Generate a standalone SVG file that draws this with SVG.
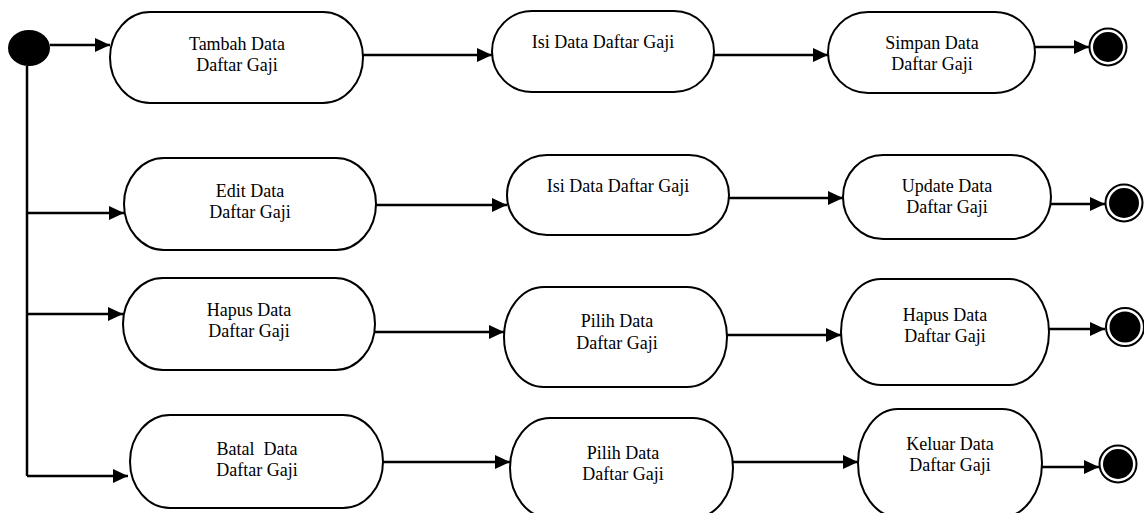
<svg xmlns="http://www.w3.org/2000/svg" width="1144" height="513" viewBox="0 0 1144 513">
<style>
.n{fill:#fff;stroke:#000;stroke-width:2}
.t{font-family:"Liberation Serif","Times New Roman",serif;font-size:18px;fill:#000;text-anchor:middle;white-space:pre}
.c{fill:none;stroke:#000;stroke-width:2.5}
</style>
<defs>
<marker id="ah" markerUnits="userSpaceOnUse" markerWidth="16" markerHeight="16" refX="15" refY="7" orient="auto">
<path d="M0,0 L15,7 L0,14 Z" fill="#000"/>
</marker>
</defs>
<g id="connectors">
<path class="c" d="M27,66 V476"/>
<path class="c" d="M50,45 H110" marker-end="url(#ah)"/>
<path class="c" d="M27,213 H124" marker-end="url(#ah)"/>
<path class="c" d="M27,314 H123" marker-end="url(#ah)"/>
<path class="c" d="M27,476 H128" marker-end="url(#ah)"/>
<path class="c" d="M363,55 H492" marker-end="url(#ah)"/>
<path class="c" d="M714,55 H828" marker-end="url(#ah)"/>
<path class="c" d="M1035,47 H1089" marker-end="url(#ah)"/>
<path class="c" d="M376,205 H507" marker-end="url(#ah)"/>
<path class="c" d="M729,198 H843" marker-end="url(#ah)"/>
<path class="c" d="M1051,204 H1105" marker-end="url(#ah)"/>
<path class="c" d="M375,332 H504" marker-end="url(#ah)"/>
<path class="c" d="M727,335 H841" marker-end="url(#ah)"/>
<path class="c" d="M1049,329 H1105" marker-end="url(#ah)"/>
<path class="c" d="M383,462 H510" marker-end="url(#ah)"/>
<path class="c" d="M733,462 H858" marker-end="url(#ah)"/>
<path class="c" d="M1042,467 H1099" marker-end="url(#ah)"/>
</g>
<g id="start"><ellipse cx="29" cy="48" rx="21" ry="18" fill="#000"/></g>
<g id="tambah"><rect class="n" x="110" y="12" width="253" height="91" rx="40" ry="60"/><text class="t" x="237" y="50">Tambah Data</text><text class="t" x="237" y="71">Daftar Gaji</text></g>
<g id="isi1"><rect class="n" x="492" y="11" width="222" height="81" rx="40" ry="60"/><text class="t" x="603" y="48">Isi Data Daftar Gaji</text></g>
<g id="simpan"><rect class="n" x="828" y="12" width="207" height="81" rx="40" ry="60"/><text class="t" x="932" y="49">Simpan Data</text><text class="t" x="932" y="70">Daftar Gaji</text></g>
<g id="end1"><circle cx="1108" cy="47" r="18.5" fill="#fff" stroke="#000" stroke-width="2"/><circle cx="1108" cy="47" r="15" fill="#000"/></g>
<g id="edit"><rect class="n" x="124" y="158" width="252" height="92" rx="40" ry="60"/><text class="t" x="250" y="197">Edit Data</text><text class="t" x="250" y="218">Daftar Gaji</text></g>
<g id="isi2"><rect class="n" x="507" y="155" width="222" height="80" rx="40" ry="60"/><text class="t" x="618" y="192">Isi Data Daftar Gaji</text></g>
<g id="update"><rect class="n" x="843" y="155" width="208" height="84" rx="40" ry="60"/><text class="t" x="947" y="192">Update Data</text><text class="t" x="947" y="213">Daftar Gaji</text></g>
<g id="end2"><circle cx="1124" cy="203" r="18.5" fill="#fff" stroke="#000" stroke-width="2"/><circle cx="1124" cy="203" r="15" fill="#000"/></g>
<g id="hapus1"><rect class="n" x="123" y="278" width="252" height="92" rx="40" ry="60"/><text class="t" x="249" y="316">Hapus Data</text><text class="t" x="249" y="337">Daftar Gaji</text></g>
<g id="pilih1"><rect class="n" x="504" y="287" width="223" height="100" rx="40" ry="60"/><text class="t" x="617" y="327">Pilih Data</text><text class="t" x="617" y="349">Daftar Gaji</text></g>
<g id="hapus2"><rect class="n" x="841" y="279" width="208" height="106" rx="40" ry="60"/><text class="t" x="945" y="321">Hapus Data</text><text class="t" x="945" y="342">Daftar Gaji</text></g>
<g id="end3"><circle cx="1125" cy="327" r="19" fill="#fff" stroke="#000" stroke-width="2"/><circle cx="1125" cy="327" r="15.5" fill="#000"/></g>
<g id="batal"><rect class="n" x="130" y="415" width="253" height="93" rx="40" ry="60"/><text class="t" x="257" y="455">Batal  Data</text><text class="t" x="257" y="476">Daftar Gaji</text></g>
<g id="pilih2"><rect class="n" x="510" y="418" width="223" height="100" rx="40" ry="60"/><text class="t" x="623" y="459">Pilih Data</text><text class="t" x="623" y="480">Daftar Gaji</text></g>
<g id="keluar"><rect class="n" x="858" y="409" width="184" height="108" rx="40" ry="60"/><text class="t" x="950" y="450">Keluar Data</text><text class="t" x="950" y="471">Daftar Gaji</text></g>
<g id="end4"><circle cx="1118" cy="464" r="18.5" fill="#fff" stroke="#000" stroke-width="2"/><circle cx="1118" cy="464" r="15" fill="#000"/></g>
</svg>
